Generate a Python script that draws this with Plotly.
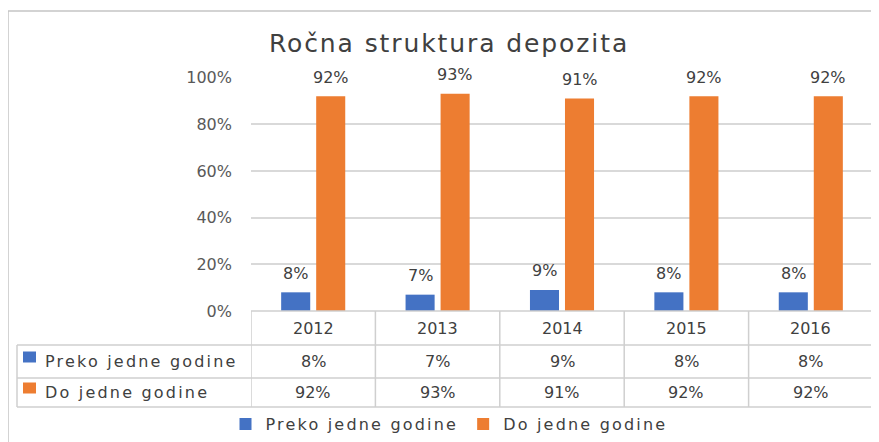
import plotly.graph_objects as go

# ---- data ----
years = ["2012", "2013", "2014", "2015", "2016"]
preko = [0.08, 0.07, 0.09, 0.08, 0.08]
do_god = [0.92, 0.93, 0.91, 0.92, 0.92]
series_names = ["Preko jedne godine", "Do jedne godine"]
colors = ["#4472C4", "#ED7D31"]
title_text = "Ročna struktura depozita"

# the page body has an 8px margin; work in screen pixels and convert
OFF = 8
W, H = 879 - OFF, 442 - OFF
FONT = "DejaVu Sans"
TXT = "#404040"
GRID = "#D9D9D9"
TBL = "#CFCFCF"


def px(x):
    return (x - OFF) / W


def py(y):
    return 1 - (y - OFF) / H


def spaced(s, sp):
    return f'<span style="letter-spacing:{sp}px">{s}</span>'


fig = go.Figure()
series = [preko, do_god]
for name, vals, col in zip(series_names, series, colors):
    fig.add_trace(go.Bar(x=years, y=vals, name=spaced(name, 2.2), marker_color=col,
                         marker_line_width=0, hoverinfo="skip"))

plot_l, plot_r = 251, 873
y0, y100 = 311, 77.5

shapes = []
annotations = []

# data labels above bars
offsets = [-17.5, 17.5]
for vals, xs in zip(series, offsets):
    for i, v in enumerate(vals):
        annotations.append(dict(x=i, y=v, xref="x", yref="y", text=f"{round(v*100)}%",
                                showarrow=False, xshift=xs, yshift=19, yanchor="middle",
                                font=dict(family=FONT, size=16, color=TXT)))

# ---- data table ----
row_tops = [311, 345, 378, 407]
line = dict(color=TBL, width=1.5)
shapes.append(dict(type="line", xref="paper", yref="paper", x0=px(plot_l), x1=px(plot_r),
                   y0=py(row_tops[0]), y1=py(row_tops[0]), line=line))
for yy in row_tops[1:]:
    shapes.append(dict(type="line", xref="paper", yref="paper", x0=px(17), x1=px(plot_r),
                       y0=py(yy), y1=py(yy), line=line))
for i in range(len(years) + 1):
    shapes.append(dict(type="line", xref="x", yref="paper", x0=i - 0.5, x1=i - 0.5,
                       y0=py(row_tops[0]), y1=py(row_tops[3]), line=line))
shapes.append(dict(type="line", xref="paper", yref="paper", x0=px(17), x1=px(17),
                   y0=py(row_tops[1]), y1=py(row_tops[3]), line=line))

for i, yr in enumerate(years):
    annotations.append(dict(x=i, xref="x", y=py((row_tops[0] + row_tops[1]) / 2), yref="paper",
                            text=yr, showarrow=False, yanchor="middle",
                            font=dict(family=FONT, size=16, color=TXT)))
for r, (name, vals, col) in enumerate(zip(series_names, series, colors)):
    ymid = (row_tops[r + 1] + row_tops[r + 2]) / 2
    shapes.append(dict(type="rect", xref="paper", yref="paper", x0=px(23), x1=px(36),
                       y0=py(ymid + 1), y1=py(ymid - 10), fillcolor=col, line_width=0))
    annotations.append(dict(x=px(43), xref="paper", y=py(ymid), yref="paper",
                            text=spaced(name, 2.2),
                            showarrow=False, xanchor="left", yanchor="middle",
                            font=dict(family=FONT, size=16, color=TXT)))
    for i, v in enumerate(vals):
        annotations.append(dict(x=i, xref="x", y=py(ymid), yref="paper", text=f"{round(v*100)}%",
                                showarrow=False, yanchor="middle",
                                font=dict(family=FONT, size=16, color=TXT)))

# chart border (left and top)
border = dict(color="#C4C4C4", width=1.5)
shapes.append(dict(type="line", xref="paper", yref="paper", x0=px(8), x1=px(8), y0=0, y1=py(11), line=border))
shapes.append(dict(type="line", xref="paper", yref="paper", x0=px(8), x1=1, y0=py(11), y1=py(11), line=border))

fig.update_layout(
    width=W, height=H,
    margin=dict(l=0, r=0, t=0, b=0, autoexpand=False),
    paper_bgcolor="white", plot_bgcolor="white",
    title=dict(text=spaced(title_text, 1.9), x=px(449), xanchor="center", y=py(43),
               yanchor="middle", automargin=False,
               font=dict(family=FONT, size=25, color=TXT)),
    barmode="group", bargap=0.437, bargroupgap=0.17,
    xaxis=dict(type="category", domain=[px(plot_l), px(plot_r)], range=[-0.5, 4.5],
               automargin=False,
               showticklabels=False, showgrid=False, zeroline=False, showline=False, ticks=""),
    yaxis=dict(domain=[py(y0), py(y100)], range=[0, 1], dtick=0.2, tickformat=".0%",
               automargin=False,
               showgrid=True, gridcolor=GRID, gridwidth=1.5, zeroline=False, showline=False,
               ticks="", ticklabelstandoff=18,
               tickfont=dict(family=FONT, size=16, color="#595959")),
    showlegend=True,
    legend=dict(orientation="h", x=px(449), xanchor="center", y=py(424), yanchor="middle",
                font=dict(family=FONT, size=16, color=TXT), bgcolor="rgba(0,0,0,0)",
                itemclick=False, itemdoubleclick=False),
    shapes=shapes, annotations=annotations,
)

fig.write_html("out.html")
